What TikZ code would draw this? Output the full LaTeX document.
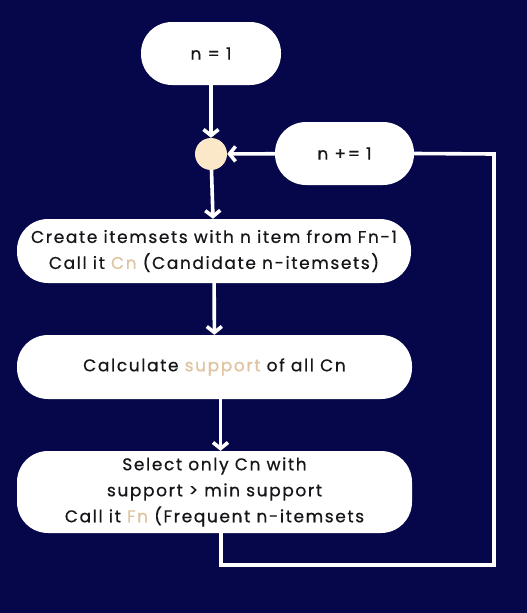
\documentclass[tikz,border=0pt]{standalone}
\usepackage{fontspec}
\setmainfont[LetterSpace=9.5,FakeBold=0.6]{Poppins}
\usepackage{xcolor}
\usetikzlibrary{arrows.meta}
\definecolor{navy}{RGB}{6,7,74}
\definecolor{sand}{RGB}{250,232,201}
\definecolor{tan}{RGB}{222,196,160}
\definecolor{ink}{RGB}{22,22,26}
\tikzset{
	pill/.style={
		fill=white,
		rounded corners=31pt,
		text=ink,
		align=center,
		inner sep=0pt,
		font=\fontsize{17pt}{26pt}\selectfont
	},
	flow/.style={
		draw=white,
		line width=3.6pt,
		-{Straight Barb[length=6pt,width=15pt,line width=3.6pt]}
	}
}
\newcommand{\hl}[1]{\textcolor{tan}{#1}}

\begin{document}
\begin{tikzpicture}[x=1pt,y=-1pt]
	\fill[navy] (0,0) rectangle (527,613);
	\useasboundingbox (0,0) rectangle (527,613);

	% boxes
	\node[pill,minimum width=140pt,minimum height=63pt] (start) at (211,53.5) {n = 1};
	\node[circle,fill=sand,minimum size=32pt,inner sep=0pt] (join) at (211,154) {};
	\node[pill,minimum width=139pt,minimum height=63pt] (incr) at (344.5,153.5) {n += 1};
	\node[pill,minimum width=394pt,minimum height=64pt] (create) at (214,251) {Create itemsets with n item from Fn-1\\Call it \hl{Cn} (Candidate n-itemsets)};
	\node[pill,minimum width=395pt,minimum height=64pt] (calc) at (214.5,367) {Calculate \hl{support} of all Cn};
	\node[pill,minimum width=395pt,minimum height=82pt] (select) at (214.5,492) {Select only Cn with\\support > min support\\Call it \hl{Fn} (Frequent n-itemsets};

	% arrows
	\draw[flow] (start) -- (join);
	\draw[flow] (join) -- (create);
	\draw[flow] (create) -- (calc);
	\draw[flow] ([xshift=6pt]calc.south) -- ([xshift=6pt]select.north);
	\draw[flow] (incr) -- (join);

	% loop back
	\coordinate (lb) at (221,565);
	\coordinate (rt) at (494,154);
	\draw[draw=white,line width=3.6pt] ([xshift=6.5pt]select.south) -- (lb) -| (rt) -- (incr.east);
\end{tikzpicture}
\end{document}
